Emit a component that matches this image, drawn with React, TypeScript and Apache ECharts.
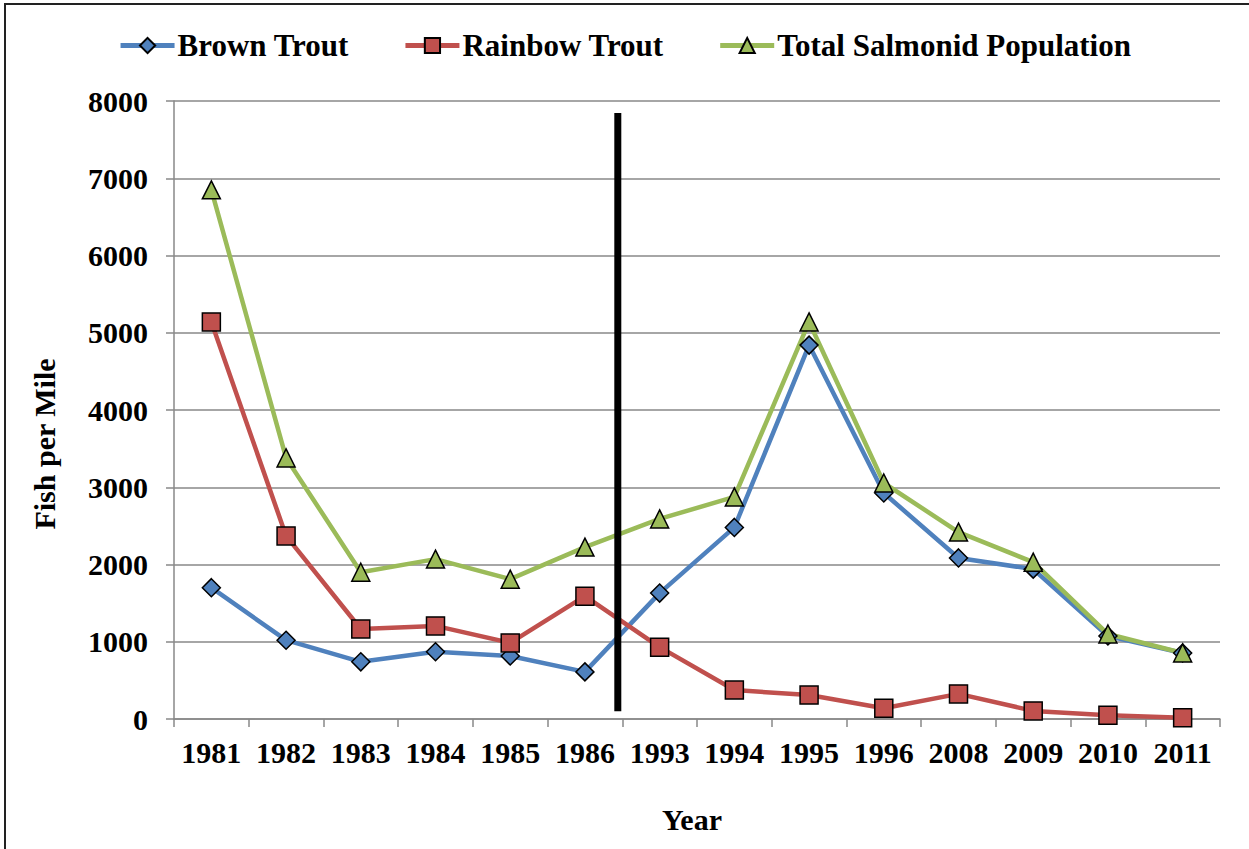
import React, { useEffect, useRef } from "react";
import * as echarts from "echarts";

const years = ["1981", "1982", "1983", "1984", "1985", "1986", "1993", "1994", "1995", "1996", "2008", "2009", "2010", "2011"];
const brownTrout = [1700, 1020, 740, 870, 815, 610, 1630, 2480, 4840, 2925, 2085, 1940, 1075, 855];
const rainbowTrout = [5140, 2370, 1165, 1205, 985, 1590, 930, 375, 310, 140, 325, 105, 50, 15];
const totalSalmonid = [6850, 3380, 1900, 2070, 1810, 2225, 2590, 2875, 5140, 3055, 2420, 2030, 1100, 855];
const dividerLine = [[5.44, 7845], [5.44, 100]];

const FONT = "'Liberation Serif', 'Times New Roman', serif";

export default function App() {
  const ref = useRef<HTMLDivElement>(null);
  useEffect(() => {
    document.body.style.margin = "0";
    const chart = echarts.init(ref.current!, null, { renderer: "svg" });
    const mk = (name: string, data: number[], color: string, symbol: string, size: number) => ({
      name,
      type: "line",
      data,
      symbol,
      symbolSize: size,
      showAllSymbol: true,
      lineStyle: { color, width: 4.5 },
      itemStyle: { color, borderColor: "#000", borderWidth: 1.5 },
      z: 3,
    });
    chart.setOption({
      animation: false,
      backgroundColor: "#fff",
      textStyle: { fontFamily: FONT },
      legend: {
        top: 25,
        left: "center",
        itemWidth: 54,
        itemHeight: 19,
        itemGap: 54,
        lineStyle: { width: 5 },
        textStyle: { fontFamily: FONT, fontWeight: "bold", fontSize: 31, color: "#000", padding: [0, 0, 0, -2] },
        data: ["Brown Trout", "Rainbow Trout", "Total Salmonid Population"],
      },
      grid: { left: 174, right: 29, top: 101, bottom: 130, containLabel: false },
      xAxis: [
        {
          type: "category",
          data: years,
          boundaryGap: true,
          name: "Year",
          nameLocation: "middle",
          nameGap: 85,
          nameTextStyle: { fontFamily: FONT, fontWeight: "bold", fontSize: 30, color: "#000", verticalAlign: "top", padding: [0, 10, 0, 0] },
          axisLine: { show: true, lineStyle: { color: "#888", width: 1.5 } },
          axisTick: { show: true, length: 8, alignWithLabel: false, lineStyle: { color: "#888", width: 1.5 } },
          axisLabel: { margin: 18, fontFamily: FONT, fontWeight: "bold", fontSize: 30, color: "#000", interval: 0 },
          splitLine: { show: false },
        },
        {
          type: "value",
          min: -0.5,
          max: 13.5,
          show: false,
        },
      ],
      yAxis: {
        type: "value",
        min: 0,
        max: 8000,
        interval: 1000,
        axisLine: { show: true, onZero: false, lineStyle: { color: "#888", width: 1.5 } },
        axisTick: { show: true, length: 8, lineStyle: { color: "#888", width: 1.5 } },
        axisLabel: {
          margin: 26,
          fontFamily: FONT,
          fontWeight: "bold",
          fontSize: 30,
          color: "#000",
          formatter: (v: number) => String(v),
        },
        splitLine: { show: true, lineStyle: { color: "#888", width: 1.5 } },
      },
      graphic: [
        {
          type: "rect",
          shape: { x: 5, y: 4, width: 1300, height: 900 },
          style: { fill: "none", stroke: "#222", lineWidth: 2 },
          silent: true,
          z: -1,
        },
        {
          type: "text",
          x: 44,
          y: 444,
          rotation: Math.PI / 2,
          style: {
            text: "Fish per Mile",
            fontFamily: FONT,
            fontWeight: "bold",
            fontSize: 30,
            fill: "#000",
            align: "center",
            verticalAlign: "middle",
          },
        },
      ],
      series: [
        mk("Brown Trout", brownTrout, "#4F81BD", "diamond", 18),
        mk("Rainbow Trout", rainbowTrout, "#C0504D", "rect", 18),
        mk("Total Salmonid Population", totalSalmonid, "#9BBB59", "triangle", 18),
        {
          name: "divider",
          type: "line",
          xAxisIndex: 1,
          data: dividerLine,
          symbol: "none",
          lineStyle: { color: "#000", width: 7, cap: "butt" },
          z: 4,
          silent: true,
        },
      ],
    });
    return () => chart.dispose();
  }, []);
  return <div ref={ref} style={{ width: 1249, height: 849 }} />;
}
